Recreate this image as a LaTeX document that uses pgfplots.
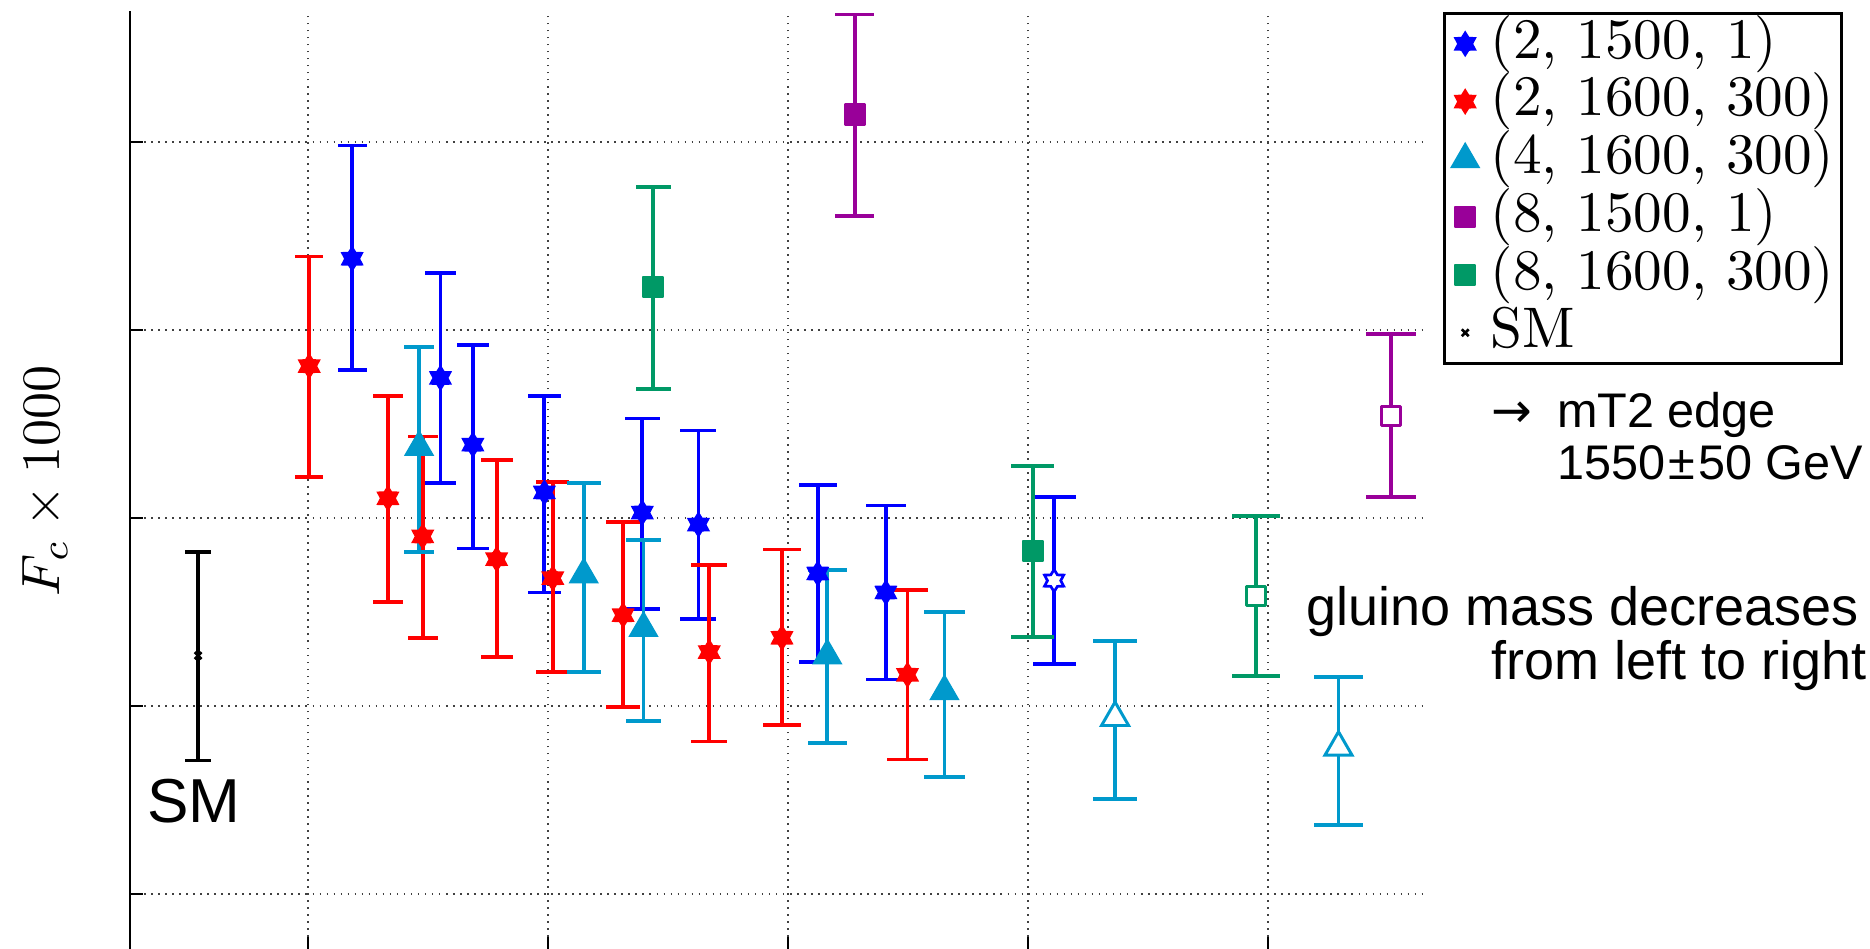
\documentclass[border=0pt]{standalone}
\usepackage{fontspec}
\usepackage{pgfplots}
\usepackage{pgfplotstable}
\pgfplotsset{compat=1.18}
\newfontfamily\sansf{Liberation Sans}
\newfontfamily\dejavu{DejaVu Sans}

\definecolor{mblue}{RGB}{0,0,255}
\definecolor{mred}{RGB}{255,0,0}
\definecolor{mcyan}{RGB}{0,153,204}
\definecolor{mpurple}{RGB}{153,0,153}
\definecolor{mgreen}{RGB}{0,153,102}

\pgfdeclareplotmark{hexagram}{%
\pgfpathmoveto{\pgfpointpolar{90}{\pgfplotmarksize}}%
\pgfpathlineto{\pgfpointpolar{120}{0.6\pgfplotmarksize}}%
\pgfpathlineto{\pgfpointpolar{150}{\pgfplotmarksize}}%
\pgfpathlineto{\pgfpointpolar{180}{0.6\pgfplotmarksize}}%
\pgfpathlineto{\pgfpointpolar{210}{\pgfplotmarksize}}%
\pgfpathlineto{\pgfpointpolar{240}{0.6\pgfplotmarksize}}%
\pgfpathlineto{\pgfpointpolar{270}{\pgfplotmarksize}}%
\pgfpathlineto{\pgfpointpolar{300}{0.6\pgfplotmarksize}}%
\pgfpathlineto{\pgfpointpolar{330}{\pgfplotmarksize}}%
\pgfpathlineto{\pgfpointpolar{0}{0.6\pgfplotmarksize}}%
\pgfpathlineto{\pgfpointpolar{30}{\pgfplotmarksize}}%
\pgfpathlineto{\pgfpointpolar{60}{0.6\pgfplotmarksize}}%
\pgfpathclose
\pgfusepathqfillstroke}

\pgfplotsset{
  bars/.style={only marks, line width=0.7pt,
    /pgfplots/error bars/y dir=both, /pgfplots/error bars/y explicit,
    /pgfplots/error bars/error mark=none,
    /pgfplots/error bars/error bar style={line width=0.7pt, solid}},
  caps/.style={forget plot, only marks, mark=*, mark size=0pt,
    mark options={draw=none, fill=none},
    /pgfplots/error bars/x dir=both, /pgfplots/error bars/x explicit,
    /pgfplots/error bars/error mark=none,
    /pgfplots/error bars/error bar style={line width=0.7pt, solid}},
}

% columns: x, y (marker), top / bot (error bar ends), tee (cap half width)
\pgfplotstableread{
x y top bot tee
1.184 4.379 4.981 3.789 0.0602
1.552 3.745 4.303 3.187 0.0639
1.687 3.390 3.922 2.838 0.0652
1.985 3.136 3.650 2.604 0.0682
2.393 3.029 3.529 2.515 0.0725
2.627 2.965 3.466 2.464 0.0749
3.124 2.705 3.174 2.236 0.0799
3.408 2.604 3.067 2.141 0.0828
}\tblue
\pgfplotstableread{
x y top bot tee
4.109 2.667 3.111 2.223 0.0899
}\tblueopen
\pgfplotstableread{
x y top bot tee
1.005 3.808 4.391 3.219 0.0583
1.333 3.105 3.650 2.553 0.0617
1.478 2.902 3.434 2.363 0.0631
1.786 2.781 3.307 2.261 0.0662
2.020 2.680 3.193 2.179 0.0687
2.313 2.483 2.978 1.995 0.0717
2.672 2.287 2.750 1.811 0.0753
2.975 2.363 2.832 1.900 0.0784
3.498 2.166 2.616 1.716 0.0837
}\tred
\pgfplotstableread{
x y top bot tee
1.463 3.377 3.910 2.819 0.0630
2.149 2.699 3.187 2.179 0.0700
2.398 2.414 2.883 1.919 0.0725
3.164 2.268 2.724 1.805 0.0803
3.652 2.078 2.502 1.621 0.0852
}\tcyan
\pgfplotstableread{
x y top bot tee
4.363 1.938 2.344 1.507 0.0925
5.294 1.780 2.154 1.368 0.1020
}\tcyanopen
\pgfplotstableread{
x y top bot tee
3.279 5.146 5.678 4.607 0.0815
}\tpurple
\pgfplotstableread{
x y top bot tee
5.512 3.542 3.979 3.111 0.1042
}\tpurpleopen
\pgfplotstableread{
x y top bot tee
2.438 4.227 4.759 3.688 0.0729
4.020 2.826 3.276 2.369 0.0890
}\tgreen
\pgfplotstableread{
x y top bot tee
4.950 2.585 3.010 2.160 0.0985
}\tgreenopen
\pgfplotstableread{
x y top bot tee
0.542 2.268 2.819 1.710 0.0536
}\tsm

\begin{document}
\begin{tikzpicture}
\path[use as bounding box] (-24.074pt,0.370pt) rectangle (322.222pt,176.111pt);
\begin{axis}[
  at={(0,0)}, anchor=south west,
  scale only axis, width=240.370pt, height=174.074pt,
  xmin=0.2583, xmax=5.667, ymin=0.697, ymax=5.697,
  axis x line=bottom, axis y line=left,
  axis line style={-, line width=0.35pt, black},
  xtick={1,2,3,4,5}, ytick={1,2,3,4,5},
  xticklabels={}, yticklabels={},
  tick align=inside, major tick length=2.5pt,
  tick style={black, line width=0.35pt},
  grid=major,
  major grid style={black!75, line width=0.3pt, dash pattern=on 0.3pt off 1.0pt},
  clip=false,
  ylabel={$F_c \times 1000$},
  ylabel style={at={(axis description cs:-0.0655,0.5)}, anchor=center, font=\fontsize{10}{12}\selectfont},
  legend image code/.code={\draw[mark repeat=2, mark phase=2, #1] plot coordinates {(0pt,0pt) (4.6pt,0pt) (9.2pt,0pt)};},
  legend style={at={(rel axis cs:1.01156,0.99894)}, anchor=north west,
    draw=black, line width=0.5pt, fill=white,
    inner xsep=1.3pt, inner ysep=0.3pt, column sep=2.2pt, row sep=0pt,
    font=\fontsize{10.6}{12.5}\selectfont,
    nodes={inner sep=0pt, text height=8pt, text depth=2.7pt}},
  legend cell align=left,
  legend entries={(2, 1500, 1),(2, 1600, 300),(4, 1600, 300),(8, 1500, 1),(8, 1600, 300),SM},
]
% (2,1500,1) blue
\addplot[mblue, caps] table[x=x, y=top, x error=tee] {\tblue};
\addplot[mblue, caps] table[x=x, y=bot, x error=tee] {\tblue};
\addplot[mblue, caps] table[x=x, y=top, x error=tee] {\tblueopen};
\addplot[mblue, caps] table[x=x, y=bot, x error=tee] {\tblueopen};
\addplot[mblue, bars, forget plot, mark=hexagram, mark size=2.05pt, mark options={fill=white, line width=0.5pt}]
  table[x=x, y=y, y error plus expr=\thisrow{top}-\thisrow{y}, y error minus expr=\thisrow{y}-\thisrow{bot}] {\tblueopen};
\addplot[mblue, bars, mark=hexagram, mark size=2.1pt, mark options={fill=mblue, line width=0.4pt}]
  table[x=x, y=y, y error plus expr=\thisrow{top}-\thisrow{y}, y error minus expr=\thisrow{y}-\thisrow{bot}] {\tblue};
% (2,1600,300) red
\addplot[mred, caps] table[x=x, y=top, x error=tee] {\tred};
\addplot[mred, caps] table[x=x, y=bot, x error=tee] {\tred};
\addplot[mred, bars, mark=hexagram, mark size=2.1pt, mark options={fill=mred, line width=0.4pt}]
  table[x=x, y=y, y error plus expr=\thisrow{top}-\thisrow{y}, y error minus expr=\thisrow{y}-\thisrow{bot}] {\tred};
% (4,1600,300) cyan
\addplot[mcyan, caps] table[x=x, y=top, x error=tee] {\tcyan};
\addplot[mcyan, caps] table[x=x, y=bot, x error=tee] {\tcyan};
\addplot[mcyan, caps] table[x=x, y=top, x error=tee] {\tcyanopen};
\addplot[mcyan, caps] table[x=x, y=bot, x error=tee] {\tcyanopen};
\addplot[mcyan, bars, forget plot, mark=triangle*, mark size=2.9pt, mark options={fill=white, line width=0.55pt}]
  table[x=x, y=y, y error plus expr=\thisrow{top}-\thisrow{y}, y error minus expr=\thisrow{y}-\thisrow{bot}] {\tcyanopen};
\addplot[mcyan, bars, mark=triangle*, mark size=2.95pt, mark options={fill=mcyan, line width=0.3pt}]
  table[x=x, y=y, y error plus expr=\thisrow{top}-\thisrow{y}, y error minus expr=\thisrow{y}-\thisrow{bot}] {\tcyan};
% (8,1500,1) purple
\addplot[mpurple, caps] table[x=x, y=top, x error=tee] {\tpurple};
\addplot[mpurple, caps] table[x=x, y=bot, x error=tee] {\tpurple};
\addplot[mpurple, caps] table[x=x, y=top, x error=tee] {\tpurpleopen};
\addplot[mpurple, caps] table[x=x, y=bot, x error=tee] {\tpurpleopen};
\addplot[mpurple, bars, forget plot, mark=square*, mark size=1.75pt, mark options={fill=white, line width=0.55pt, line join=round}]
  table[x=x, y=y, y error plus expr=\thisrow{top}-\thisrow{y}, y error minus expr=\thisrow{y}-\thisrow{bot}] {\tpurpleopen};
\addplot[mpurple, bars, mark=square*, mark size=1.85pt, mark options={fill=mpurple, line width=0.4pt, line join=round}]
  table[x=x, y=y, y error plus expr=\thisrow{top}-\thisrow{y}, y error minus expr=\thisrow{y}-\thisrow{bot}] {\tpurple};
% (8,1600,300) green
\addplot[mgreen, caps] table[x=x, y=top, x error=tee] {\tgreen};
\addplot[mgreen, caps] table[x=x, y=bot, x error=tee] {\tgreen};
\addplot[mgreen, caps] table[x=x, y=top, x error=tee] {\tgreenopen};
\addplot[mgreen, caps] table[x=x, y=bot, x error=tee] {\tgreenopen};
\addplot[mgreen, bars, forget plot, mark=square*, mark size=1.75pt, mark options={fill=white, line width=0.55pt, line join=round}]
  table[x=x, y=y, y error plus expr=\thisrow{top}-\thisrow{y}, y error minus expr=\thisrow{y}-\thisrow{bot}] {\tgreenopen};
\addplot[mgreen, bars, mark=square*, mark size=1.85pt, mark options={fill=mgreen, line width=0.4pt, line join=round}]
  table[x=x, y=y, y error plus expr=\thisrow{top}-\thisrow{y}, y error minus expr=\thisrow{y}-\thisrow{bot}] {\tgreen};
% SM
\addplot[black, caps] table[x=x, y=top, x error=tee] {\tsm};
\addplot[black, caps] table[x=x, y=bot, x error=tee] {\tsm};
\addplot[black, bars, mark=x, mark size=0.9pt, mark options={line width=0.5pt}]
  table[x=x, y=y, y error plus expr=\thisrow{top}-\thisrow{y}, y error minus expr=\thisrow{y}-\thisrow{bot}] {\tsm};

% annotations
\node[anchor=base west, inner sep=0pt, font=\sansf\fontsize{11.5}{13}\selectfont] at (axis cs:0.325,1.383) {SM};
\node[anchor=base east, inner sep=0pt, font=\sansf\fontsize{10}{12}\selectfont] at (axis cs:7.465,2.43) {gluino mass decreases};
\node[anchor=base east, inner sep=0pt, font=\sansf\fontsize{10}{12}\selectfont] at (axis cs:7.50,2.14) {from left to right};
\node[anchor=base west, inner sep=0pt, font=\dejavu\fontsize{9}{11}\selectfont] at (axis cs:5.929,3.484) {→};
\node[anchor=base west, inner sep=0pt, font=\sansf\fontsize{9}{11}\selectfont] at (axis cs:6.2,3.484) {mT2 edge};
\node[anchor=base west, inner sep=0pt, font=\sansf\fontsize{9}{11}\selectfont] at (axis cs:6.2,3.207) {1550\hspace{0.6pt}±\hspace{0.6pt}50 GeV};
\end{axis}
\end{tikzpicture}
\end{document}
